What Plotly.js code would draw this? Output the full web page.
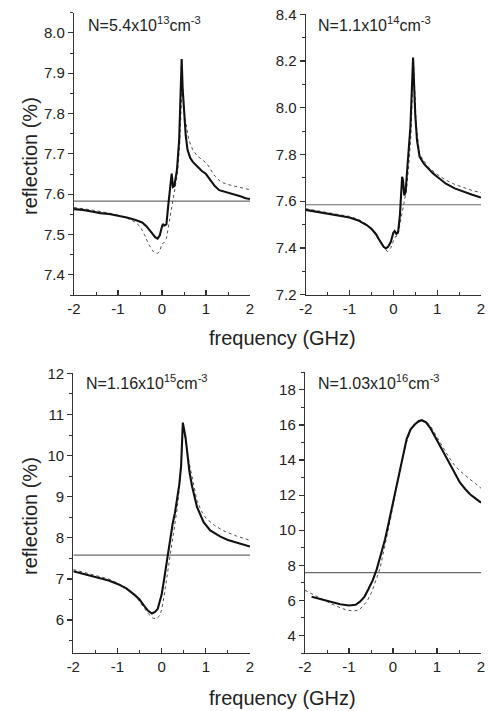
<!DOCTYPE html>
<html>
<head>
<meta charset="utf-8">
<script src="https://cdn.plot.ly/plotly-3.0.1.min.js"></script>
<style>html,body{margin:0;padding:0;background:#fff;}#chart{width:490px;height:711px;}</style>
</head>
<body>
<div id="chart"></div>
<script>
// ---- Panel labels ----
const panelLabels = [
  "N=5.4x10<sup>13</sup>cm<sup>-3</sup>",
  "N=1.1x10<sup>14</sup>cm<sup>-3</sup>",
  "N=1.16x10<sup>15</sup>cm<sup>-3</sup>",
  "N=1.03x10<sup>16</sup>cm<sup>-3</sup>"
];
const xTitle = "frequency (GHz)";
const yTitle = "reflection (%)";

// x tick labels (plain hyphen minus as in the original)
const xTickVals = [-2, -1, 0, 1, 2];
const xTickText = ["-2", "-1", "0", "1", "2"];

// reference (horizontal) level in each panel
const baselineX = [-2, 2];
const baselineY = [7.583, 7.585, 7.58, 7.58];

// ---- Panel 1 (N=5.4e13) ----
const p1SolidX = [-2,-1.8,-1.6,-1.4,-1.2,-1.0,-0.8,-0.6,-0.5,-0.45,-0.35,-0.25,-0.15,-0.1,-0.05,0.0,0.02,0.05,0.1,0.14,0.18,0.22,0.25,0.28,0.31,0.34,0.39,0.42,0.447,0.47,0.5,0.54,0.58,0.64,0.7,0.8,0.9,1.0,1.1,1.2,1.3,1.4,1.5,1.6,1.7,1.8,1.9,2.0];
const p1SolidY = [7.563,7.561,7.557,7.553,7.551,7.547,7.542,7.536,7.532,7.53,7.52,7.506,7.493,7.49,7.498,7.52,7.526,7.522,7.525,7.57,7.62,7.651,7.618,7.62,7.64,7.66,7.734,7.84,7.935,7.86,7.8,7.745,7.71,7.69,7.68,7.668,7.658,7.65,7.635,7.62,7.61,7.607,7.604,7.601,7.598,7.594,7.59,7.588];
const p1DotX = [-2,-1.6,-1.2,-1.0,-0.8,-0.6,-0.5,-0.4,-0.3,-0.2,-0.1,-0.05,0.0,0.05,0.1,0.15,0.2,0.25,0.3,0.35,0.4,0.46,0.52,0.61,0.7,0.8,1.02,1.2,1.34,1.5,1.72,2.0];
const p1DotY = [7.567,7.561,7.553,7.548,7.541,7.53,7.52,7.5,7.475,7.458,7.453,7.46,7.477,7.48,7.49,7.52,7.55,7.585,7.61,7.65,7.72,7.875,7.79,7.734,7.71,7.695,7.676,7.645,7.63,7.624,7.618,7.611];

// ---- Panel 2 (N=1.1e14) ----
const p2SolidX = [-2,-1.8,-1.6,-1.4,-1.2,-1.0,-0.8,-0.6,-0.5,-0.4,-0.3,-0.22,-0.17,-0.12,-0.06,0.0,0.03,0.07,0.11,0.15,0.2,0.22,0.25,0.28,0.31,0.35,0.39,0.45,0.5,0.54,0.6,0.7,0.8,0.9,1.0,1.2,1.4,1.6,1.8,2.0];
const p2SolidY = [7.563,7.556,7.55,7.545,7.538,7.53,7.518,7.497,7.482,7.46,7.428,7.405,7.398,7.405,7.425,7.465,7.472,7.46,7.47,7.54,7.705,7.69,7.625,7.64,7.72,7.82,7.92,8.215,7.97,7.86,7.79,7.76,7.74,7.72,7.705,7.675,7.655,7.64,7.628,7.616];
const p2DotX = [-2,-1.6,-1.2,-1.0,-0.8,-0.6,-0.4,-0.3,-0.2,-0.13,-0.06,0.0,0.05,0.1,0.15,0.2,0.25,0.3,0.35,0.4,0.46,0.52,0.6,0.8,1.0,1.2,1.4,1.6,1.8,2.0];
const p2DotY = [7.568,7.555,7.542,7.535,7.523,7.5,7.462,7.425,7.395,7.385,7.4,7.43,7.45,7.45,7.5,7.56,7.6,7.65,7.75,7.88,8.2,7.93,7.8,7.745,7.715,7.69,7.672,7.658,7.646,7.637];

// ---- Panel 3 (N=1.16e15) ----
const p3SolidX = [-2,-1.8,-1.6,-1.4,-1.2,-1.0,-0.8,-0.6,-0.5,-0.4,-0.3,-0.22,-0.15,-0.09,0.0,0.05,0.1,0.15,0.2,0.25,0.3,0.35,0.4,0.44,0.48,0.54,0.58,0.63,0.69,0.8,0.95,1.1,1.33,1.5,1.71,2.0];
const p3SolidY = [7.19,7.13,7.08,7.02,6.96,6.88,6.77,6.6,6.5,6.35,6.22,6.16,6.2,6.27,6.62,6.95,7.3,7.6,8.05,8.35,8.6,8.9,9.3,9.75,10.8,10.45,10.0,9.6,9.25,8.75,8.38,8.18,8.03,7.95,7.88,7.79];
const p3DotX = [-2,-1.6,-1.2,-1.0,-0.8,-0.6,-0.4,-0.3,-0.2,-0.12,-0.05,0.0,0.05,0.1,0.15,0.2,0.25,0.3,0.35,0.4,0.44,0.48,0.54,0.6,0.7,0.8,0.9,1.0,1.2,1.4,1.7,2.0];
const p3DotY = [7.23,7.12,7.0,6.9,6.78,6.6,6.32,6.15,6.05,6.03,6.1,6.25,6.55,6.9,7.25,7.6,7.95,8.3,8.7,9.2,9.7,10.65,10.4,9.95,9.45,8.9,8.65,8.48,8.3,8.17,8.04,7.94];

// ---- Panel 4 (N=1.03e16) ----
const p4SolidX = [-1.85,-1.6,-1.4,-1.2,-1.0,-0.85,-0.75,-0.65,-0.56,-0.46,-0.37,-0.28,-0.18,-0.1,0.0,0.08,0.16,0.24,0.31,0.4,0.5,0.58,0.65,0.75,0.84,0.95,1.07,1.2,1.3,1.4,1.52,1.64,1.75,1.88,2.0];
const p4SolidY = [6.21,6.03,5.9,5.78,5.71,5.75,5.93,6.2,6.63,7.15,7.77,8.55,9.48,10.4,11.57,12.5,13.47,14.4,15.19,15.75,16.04,16.2,16.27,16.15,15.85,15.35,14.8,14.15,13.66,13.2,12.72,12.35,12.05,11.8,11.57];
const p4DotX = [-2,-1.8,-1.6,-1.4,-1.2,-1.05,-0.9,-0.78,-0.68,-0.58,-0.49,-0.4,-0.3,-0.22,-0.14,-0.06,0.0,0.1,0.2,0.3,0.4,0.5,0.6,0.65,0.75,0.85,0.95,1.07,1.2,1.3,1.4,1.52,1.64,1.75,1.88,2.0];
const p4DotY = [6.57,6.3,6.03,5.8,5.58,5.45,5.39,5.45,5.67,6.0,6.44,7.05,7.77,8.7,9.58,10.6,11.4,12.7,13.9,14.95,15.7,16.1,16.3,16.3,16.2,15.95,15.5,14.99,14.45,14.05,13.7,13.38,13.1,12.9,12.65,12.39];

const solids = [[p1SolidX,p1SolidY],[p2SolidX,p2SolidY],[p3SolidX,p3SolidY],[p4SolidX,p4SolidY]];
const dots = [[p1DotX,p1DotY],[p2DotX,p2DotY],[p3DotX,p3DotY],[p4DotX,p4DotY]];

const axisSuffix = ['', '2', '3', '4'];
const traces = [];
for (let i = 0; i < 4; i++) {
  const xa = 'x' + axisSuffix[i], ya = 'y' + axisSuffix[i];
  traces.push({x: baselineX, y: [baselineY[i], baselineY[i]], xaxis: xa, yaxis: ya, mode: 'lines',
    line: {color: '#6b6b6b', width: 1.2}, hoverinfo: 'skip'});
  traces.push({x: dots[i][0], y: dots[i][1], xaxis: xa, yaxis: ya, mode: 'lines',
    line: {color: '#505050', width: 1.0, dash: 'dot'}});
  traces.push({x: solids[i][0], y: solids[i][1], xaxis: xa, yaxis: ya, mode: 'lines',
    line: {color: '#111', width: 2.1}});
}

const FONT = 'Liberation Sans, Arial, sans-serif';
const tickFont = {family: FONT, size: 15, color: '#222'};
function xAxis(domain, anchor) {
  return {domain: domain, anchor: anchor, range: [-2, 2],
    tickmode: 'array', tickvals: xTickVals, ticktext: xTickText,
    showline: true, linecolor: '#333', linewidth: 1.2, showgrid: false, zeroline: false,
    ticks: 'inside', ticklen: 5, tickcolor: '#333', tickwidth: 1.2, tickfont: tickFont,
    minor: {dtick: 0.5, tick0: -2, ticks: 'inside', ticklen: 3, tickcolor: '#333', tickwidth: 1}};
}
function yAxis(domain, anchor, range, dtick, minorDtick, fmt) {
  return {domain: domain, anchor: anchor, range: range, dtick: dtick, tick0: 0,
    tickformat: fmt, showline: true, linecolor: '#333', linewidth: 1.2, showgrid: false, zeroline: false,
    ticks: 'outside', ticklen: 5, tickcolor: '#333', tickwidth: 1.2, tickfont: tickFont,
    minor: {dtick: minorDtick, ticks: 'outside', ticklen: 3, tickcolor: '#333', tickwidth: 1}};
}

const W = 490, H = 711;
const fx = px => px / W;
const fy = py => 1 - py / H;
function label(text, px, py) {
  return {text: text, xref: 'paper', yref: 'paper', x: fx(px), y: fy(py), xanchor: 'left', yanchor: 'top',
    showarrow: false, font: {family: FONT, size: 16, color: '#222'}};
}
function title(text, px, py, angle) {
  return {text: text, xref: 'paper', yref: 'paper', x: fx(px), y: fy(py), xanchor: 'center', yanchor: 'middle',
    textangle: angle, showarrow: false, font: {family: FONT, size: 20, color: '#222'}};
}

const layout = {
  width: W, height: H,
  margin: {l: 0, r: 0, t: 0, b: 0},
  paper_bgcolor: '#fff', plot_bgcolor: '#fff',
  font: {family: FONT, size: 15, color: '#222'},
  showlegend: false,
  xaxis:  xAxis([fx(74), fx(250)], 'y'),
  yaxis:  yAxis([fy(295), fy(12.7)], 'x', [7.35, 8.05], 0.1, 0.05, '.1f'),
  xaxis2: xAxis([fx(305.7), fx(481)], 'y2'),
  yaxis2: yAxis([fy(294.7), fy(14.3)], 'x2', [7.2, 8.4], 0.2, 0.1, '.1f'),
  xaxis3: xAxis([fx(73.3), fx(250)], 'y3'),
  yaxis3: yAxis([fy(653), fy(373.3)], 'x3', [5.2, 12], 1, 0.5, 'd'),
  xaxis4: xAxis([fx(305), fx(481)], 'y4'),
  yaxis4: yAxis([fy(653), fy(372.3)], 'x4', [3, 19], 2, 1, 'd'),
  annotations: [
    label(panelLabels[0], 86, 12),
    label(panelLabels[1], 316, 12),
    label(panelLabels[2], 84, 370),
    label(panelLabels[3], 316, 370),
    title(xTitle, 282, 338, 0),
    title(xTitle, 282, 698, 0),
    title(yTitle, 30, 156, -90),
    title(yTitle, 30, 516, -90)
  ]
};

Plotly.newPlot('chart', traces, layout, {staticPlot: true, displayModeBar: false});
</script>
</body>
</html>
